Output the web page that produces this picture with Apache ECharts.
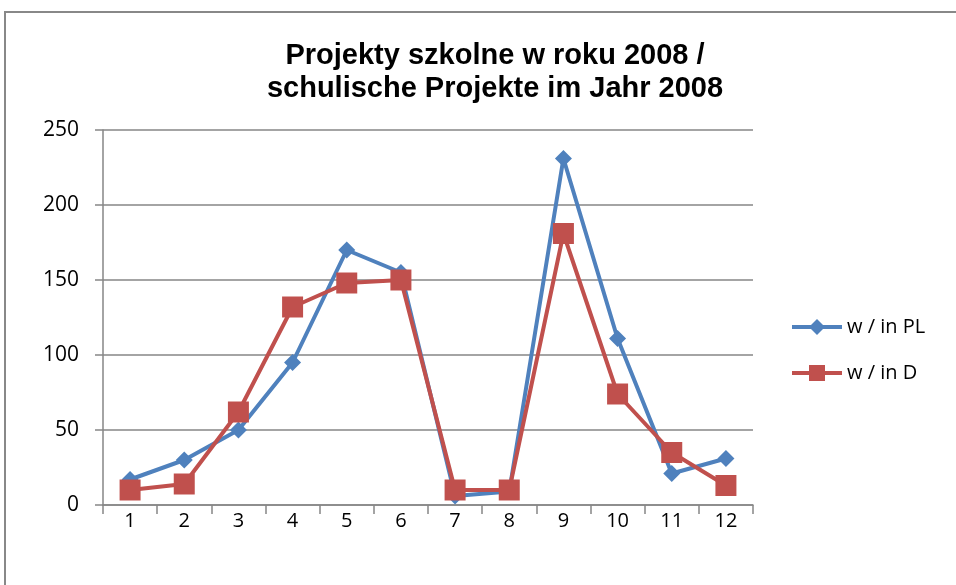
<!DOCTYPE html>
<html>
<head>
<meta charset="utf-8">
<script src="https://cdn.jsdelivr.net/npm/echarts@6/dist/echarts.min.js"></script>
<style>
  html, body { margin: 0; padding: 0; background: #fff; }
  #chart { width: 956px; height: 585px; }
</style>
</head>
<body>
<div id="chart"></div>
<script>
const months = ['1', '2', '3', '4', '5', '6', '7', '8', '9', '10', '11', '12'];
const valuesPL = [17, 30, 50, 95, 170, 155, 6, 9, 231, 111, 21, 31];
const valuesD = [10, 14, 62, 132, 148, 150, 10, 10, 181, 74, 35, 13];
const yTicks = [0, 50, 100, 150, 200, 250];

const chart = echarts.init(document.getElementById('chart'));
const axisGray = '#868686';
const labelFont = '"Open Sans", "Liberation Sans", sans-serif';

const option = {
  animation: false,
  title: {
    text: 'Projekty szkolne w roku 2008 /\nschulische Projekte im Jahr 2008',
    left: 490,
    top: 34,
    textAlign: 'center',
    textStyle: {
      fontFamily: '"Liberation Sans", Arial, sans-serif',
      fontWeight: 'bold',
      fontSize: 29,
      lineHeight: 33,
      color: '#000',
    },
  },
  // frame line on top and left like the original screenshot
  graphic: [
    {
      type: 'rect',
      shape: { x: 5, y: 12, width: 1000, height: 600 },
      style: { fill: 'none', stroke: '#888', lineWidth: 2 },
      silent: true,
    },
  ],
  legend: {
    orient: 'vertical',
    left: 785,
    top: 312,
    itemWidth: 50,
    itemHeight: 20,
    itemGap: 26,
    lineStyle: { width: 'inherit' },
    textStyle: { fontFamily: labelFont, fontSize: 20, color: '#000' },
    data: ['w / in PL', 'w / in D'],
  },
  grid: {
    left: 103,
    right: 203,
    top: 130,
    bottom: 80,
  },
  xAxis: {
    type: 'category',
    data: months,
    boundaryGap: true,
    axisLine: { lineStyle: { color: axisGray, width: 1.5 } },
    axisTick: { show: true, length: 9, lineStyle: { color: axisGray, width: 1.5 } },
    axisLabel: { margin: 6, fontFamily: labelFont, fontSize: 20, color: '#000' },
  },
  yAxis: {
    type: 'value',
    min: yTicks[0],
    max: yTicks[yTicks.length - 1],
    interval: 50,
    axisLine: { show: true, lineStyle: { color: axisGray, width: 1.5 } },
    axisTick: { show: true, length: 8, lineStyle: { color: axisGray, width: 1.5 } },
    axisLabel: { margin: 24, fontFamily: labelFont, fontSize: 21, color: '#000' },
    splitLine: { lineStyle: { color: axisGray, width: 1.5 } },
  },
  series: [
    {
      name: 'w / in PL',
      type: 'line',
      data: valuesPL,
      symbol: 'diamond',
      symbolSize: 17,
      lineStyle: { color: '#4F81BD', width: 4 },
      itemStyle: { color: '#4F81BD' },
    },
    {
      name: 'w / in D',
      type: 'line',
      data: valuesD,
      symbol: 'rect',
      symbolSize: 21,
      lineStyle: { color: '#C0504D', width: 4 },
      itemStyle: { color: '#C0504D' },
    },
  ],
};

chart.setOption(option);
</script>
</body>
</html>
